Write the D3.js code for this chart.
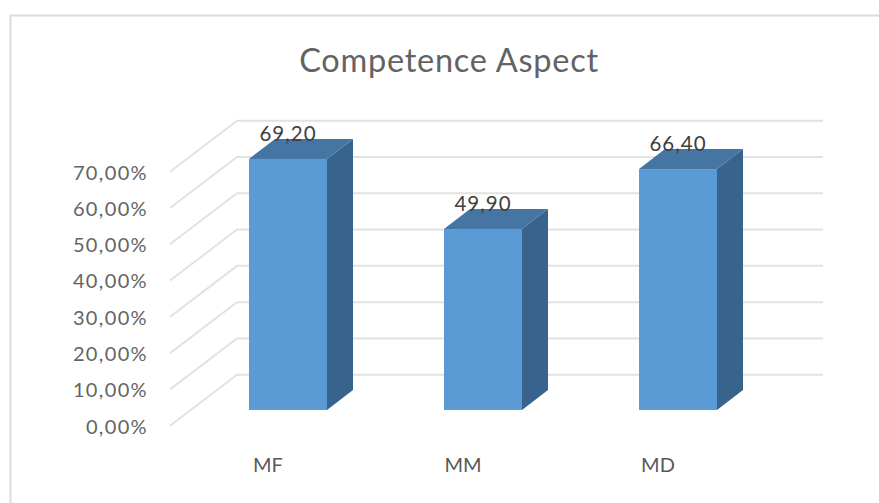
<!DOCTYPE html>
<html>
<head>
<meta charset="utf-8">
<script src="https://cdn.jsdelivr.net/npm/d3@7"></script>
<style>
  html, body { margin:0; padding:0; background:#fff; }
  svg { display:block; font-family:Lato, "Open Sans", sans-serif; }
</style>
</head>
<body>
<div id="chart"></div>
<script>
const categories = ['MF', 'MM', 'MD'];
const values = [69.20, 49.90, 66.40];
const valueLabels = ['69,20', '49,90', '66,40'];
const ticks = [0, 10, 20, 30, 40, 50, 60, 70];

const W = 879, H = 503;
const svg = d3.select('#chart').append('svg').attr('width', W).attr('height', H);

// picture frame, only left and top show in the crop
svg.append('path')
  .attr('d', `M10.5,${H}V15.5H${W}`)
  .attr('fill', 'none').attr('stroke', '#dcdcdc').attr('stroke-width', 2);

svg.append('text')
  .attr('x', 449).attr('y', 72)
  .attr('text-anchor', 'middle')
  .attr('font-size', 32.5)
  .attr('letter-spacing', 0.75)
  .attr('fill', '#636363')
  .text('Competence Aspect');

// front edge of the floor, the walls go back by wallDx/wallDy
const y = d3.scaleLinear().domain([0, 70]).range([425.7, 171.7]);
const wallDx = 67, wallDy = 51, wallRight = 823, wallLeft = 170;

svg.append('g').selectAll('path').data(ticks).join('path')
  .attr('d', d => `M${wallLeft},${y(d)}L${wallLeft + wallDx},${y(d) - wallDy}H${wallRight}`)
  .attr('fill', 'none').attr('stroke', '#e2e2e2').attr('stroke-width', 2);

const axis = d3.axisLeft(y).tickValues(ticks).tickSize(0).tickPadding(0)
  .tickFormat(d => d3.format('.2f')(d).replace('.', ',') + '%');
const axisG = svg.append('g').attr('transform', 'translate(148,1)').call(axis);
axisG.select('.domain').remove();
axisG.selectAll('text')
  .attr('font-family', 'Lato, "Open Sans", sans-serif')
  .attr('font-size', 20).attr('letter-spacing', 1.35).attr('fill', '#646464');

// bars sit partway into the floor
const x = d3.scaleBand().domain(categories).range([190.5, 775.5]).paddingInner(0.6).paddingOuter(0.3);
const barY = d3.scaleLinear().domain([0, 70]).range([410, 156]);
const depthX = 26, depthY = 20;

const bars = svg.append('g').selectAll('g').data(categories).join('g');

bars.append('path') // side
  .attr('d', (c, i) => {
    const r = x(c) + x.bandwidth(), t = barY(values[i]), b = barY(0);
    return `M${r},${t}l${depthX},${-depthY}V${b - depthY}L${r},${b}Z`;
  })
  .attr('fill', '#38638c');

bars.append('path') // top
  .attr('d', (c, i) => {
    const l = x(c), t = barY(values[i]);
    return `M${l},${t}l${depthX},${-depthY}h${x.bandwidth()}l${-depthX},${depthY}Z`;
  })
  .attr('fill', '#4575a3');

bars.append('rect') // front
  .attr('x', c => x(c))
  .attr('y', (c, i) => barY(values[i]))
  .attr('width', x.bandwidth())
  .attr('height', (c, i) => barY(0) - barY(values[i]))
  .attr('fill', '#5b9bd5');

bars.append('text')
  .attr('x', c => x(c) + x.bandwidth() / 2)
  .attr('y', (c, i) => barY(values[i]) - 18)
  .attr('text-anchor', 'middle')
  .attr('font-size', 20.5)
  .attr('letter-spacing', 1)
  .attr('fill', '#404040')
  .text((c, i) => valueLabels[i]);

bars.append('text')
  .attr('x', c => x(c) + x.bandwidth() / 2 - 20)
  .attr('y', 472)
  .attr('text-anchor', 'middle')
  .attr('font-size', 20)
  .attr('fill', '#595959')
  .text(c => c);
</script>
</body>
</html>
